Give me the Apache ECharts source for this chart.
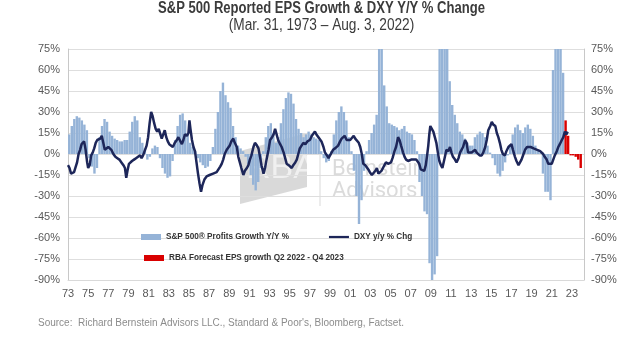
<!DOCTYPE html>
<html>
<head>
<meta charset="utf-8">
<script src="https://cdn.jsdelivr.net/npm/echarts@6/dist/echarts.min.js"></script>
<style>html,body{margin:0;padding:0;background:#fff;}#c{width:624px;height:340px;}</style>
</head>
<body>
<div id="c"></div>
<script>
// ---- Data ----
const startYear = 1973;
// Tick labels on the x axis (every 2 years, 1973..2023)
const xTickYears = [73,75,77,79,81,83,85,87,89,91,93,95,97,99,1,3,5,7,9,11,13,15,17,19,21,23];
const yTicks = [-90,-75,-60,-45,-30,-15,0,15,30,45,60,75];

// S&P 500 reported EPS growth Y/Y %, quarterly, 1973Q1 .. 2022Q1
const epsGrowth = [
  14, 20, 25, 27,   // 1973
  26, 24, 21, 17,   // 1974
  -3, -9, -14, -10, // 1975
  12, 20, 25, 23,   // 1976
  16, 13, 11, 10,   // 1977
  9, 9, 10, 10,     // 1978
  16, 23, 27, 24,   // 1979
  12, 8, 4, -4,     // 1980
  -2, 4, 6, 5,      // 1981
  -3, -10, -14, -17,// 1982
  -16, -5, 10, 20,  // 1983
  28, 29, 24, 15,   // 1984
  8, 5, 2, -3,      // 1985
  -6, -8, -10, -9,  // 1986
  -5, 5, 18, 30,    // 1987
  45, 51, 42, 37,   // 1988
  33, 20, 12, 6,    // 1989
  4, 2, -2, -7,     // 1990
  -15, -22, -26, -20, // 1991
  -10, 2, 12, 20,   // 1992
  22, 15, 8, 12,    // 1993
  22, 32, 40, 44,   // 1994
  43, 36, 25, 18,   // 1995
  15, 12, 14, 16,   // 1996
  14, 12, 11, 10,   // 1997
  2, -3, -6, -5,    // 1998
  2, 14, 24, 30,    // 1999
  34, 30, 24, 12,   // 2000
  2, -12, -30, -50, // 2001
  -33, -12, 2, 10,  // 2002
  15, 21, 28, 100,  // 2003
  90, 49, 34, 22,   // 2004
  21, 20, 19, 17,   // 2005
  18, 20, 16, 15,   // 2006
  14, 10, 2, -20,   // 2007
  -30, -41, -43, -78, // 2008
  -90, -86, -73, 120, // 2009
  200, 140, 90, 52, // 2010
  35, 28, 22, 16,   // 2011
  14, 11, 8, 6,     // 2012
  6, 12, 14, 16,    // 2013
  15, 12, 6, 1,     // 2014
  -3, -8, -14, -16, // 2015
  -12, -6, -1, 6,   // 2016
  14, 19, 21, 17,   // 2017
  15, 19, 21, 18,   // 2018
  13, 6, 2, 1,      // 2019
  -14, -27, -27, -33, // 2020
  60, 140, 110, 85, // 2021
  58                // 2022Q1
];
// RBA forecast EPS growth, Q2 2022 .. Q4 2023
const forecastStartYear = 2022.25;
const forecastGrowth = [24, 13, -1, -1, -2, -4, -10];

// DXY y/y % change (date as decimal year, value %)
const dxyDates = [
1973.00,1973.15,1973.30,1973.45,1973.60,1973.75,1973.90,1974.05,1974.20,1974.35,1974.50,1974.60,1974.75,1974.90,
1975.00,1975.15,1975.30,1975.45,1975.60,1975.75,1975.90,1976.05,1976.20,1976.35,1976.50,1976.65,1976.80,
1977.00,1977.15,1977.30,1977.50,1977.70,1977.90,1978.10,1978.30,1978.50,1978.65,1978.78,1978.90,
1979.05,1979.20,1979.35,1979.55,1979.75,1979.95,1980.15,1980.30,1980.45,1980.60,1980.80,1980.95,
1981.10,1981.25,1981.40,1981.55,1981.70,1981.85,1982.00,1982.15,1982.30,1982.45,1982.60,1982.75,1982.90,
1983.05,1983.20,1983.40,1983.60,1983.80,1983.95,1984.10,1984.30,1984.45,1984.60,1984.80,1984.95,
1985.05,1985.15,1985.30,1985.45,1985.60,1985.75,1985.90,1986.05,1986.20,1986.35,1986.55,1986.75,1986.90,
1987.05,1987.20,1987.40,1987.55,1987.75,1987.90,1988.10,1988.25,1988.40,1988.55,1988.75,1988.90,
1989.05,1989.20,1989.40,1989.55,1989.75,1989.90,1990.05,1990.20,1990.40,1990.55,1990.75,1990.90,
1991.05,1991.20,1991.40,1991.55,1991.75,1991.90,1992.05,1992.20,1992.40,1992.55,1992.70,1992.90,
1993.05,1993.25,1993.40,1993.55,1993.70,1993.85,1994.05,1994.20,1994.40,1994.55,1994.70,1994.90,
1995.05,1995.20,1995.35,1995.55,1995.70,1995.85,1996.00,1996.15,1996.35,1996.55,1996.75,
1997.00,1997.20,1997.35,1997.50,1997.65,1997.85,1998.00,1998.15,1998.35,1998.50,1998.70,1998.85,
1999.00,1999.15,1999.30,1999.50,1999.65,1999.80,2000.00,2000.15,2000.30,2000.45,2000.65,2000.80,
2001.00,2001.15,2001.35,2001.50,2001.65,2001.85,2002.00,2002.15,2002.30,2002.50,2002.65,2002.80,2002.95,
2003.15,2003.30,2003.50,2003.65,2003.80,2003.95,2004.10,2004.25,2004.40,2004.55,2004.75,2004.90,
2005.05,2005.20,2005.40,2005.55,2005.75,2005.90,2006.05,2006.25,2006.40,2006.55,2006.75,2006.90,
2007.05,2007.20,2007.35,2007.55,2007.70,2007.85,2008.00,2008.15,2008.35,2008.50,2008.65,2008.75,2008.85,2008.95,
2009.10,2009.25,2009.40,2009.55,2009.70,2009.85,2010.00,2010.15,2010.25,2010.40,2010.55,2010.75,2010.90,
2011.05,2011.20,2011.40,2011.55,2011.75,2011.90,2012.05,2012.20,2012.40,2012.55,2012.70,2012.85,
2013.05,2013.20,2013.40,2013.55,2013.70,2013.85,2014.05,2014.20,2014.40,2014.55,2014.70,2014.90,
2015.05,2015.20,2015.40,2015.55,2015.70,2015.85,2016.00,2016.15,2016.35,2016.50,2016.70,2016.85,
2017.00,2017.15,2017.35,2017.50,2017.70,2017.85,2018.00,2018.20,2018.35,2018.55,2018.70,2018.90,
2019.05,2019.20,2019.35,2019.55,2019.70,2019.85,2020.00,2020.15,2020.30,2020.50,2020.65,2020.80,
2021.00,2021.15,2021.30,2021.50,2021.65,2021.80,2022.00,2022.15,2022.30,2022.45,2022.58
];
const dxyValues = [
-8,-10,-14,-15,-13,-14,-6,0,3,7,8,9,3,-6,
-10,-8,-1,1,4,8,10,9,11,13,8,3,2,
5,6,3,0,-2,-3,-4,-6,-8,-10,-17,-12,
-7,-6,-5,-4,-3,-2,-1,-3,-1,2,6,12,
22,30,27,22,18,16,18,17,11,14,17,12,9,
7,6,5,8,10,12,11,7,10,14,13,15,
24,18,10,5,2,-6,-14,-21,-27,-22,-18,-16,-17,
-15,-16,-14,-15,-13,-12,-9,-7,-4,0,3,3,
6,9,11,8,5,-2,-6,-10,-15,-12,-10,-8,
-4,-1,5,8,6,4,-2,-8,-14,-10,-4,3,
10,12,14,18,14,10,7,5,1,-3,-7,-8,
-9,-10,-8,-6,-4,0,4,5,8,7,9,
10,13,14,16,14,12,11,9,5,1,-1,-3,
-2,1,3,4,5,6,9,11,12,13,10,11,
10,11,13,11,12,8,5,0,-7,-8,-9,-11,-13,
-15,-16,-12,-10,-14,-13,-12,-10,-8,-6,-7,-6,
-6,-3,2,5,12,10,6,1,-2,-4,-5,-5,
-4,-5,-4,-4,-5,-7,-11,-12,-12,-8,0,6,14,20,
19,16,12,8,1,-5,-8,-10,-11,-2,3,2,5,
1,-2,-4,-6,-3,1,2,5,10,8,1,0,
1,2,3,1,0,-1,-1,1,5,10,17,20,
23,21,20,15,12,8,3,0,-1,2,5,6,
7,3,-2,-5,-8,-7,-4,0,3,5,6,5,
5,4,3,3,3,2,1,0,-2,-4,-7,-6,
-7,-4,-1,2,5,7,10,12,16,14,16
];

const seriesNames = {
  eps: 'S&P 500® Profits Growth Y/Y %',
  dxy: 'DXY y/y % Chg',
  fc: 'RBA Forecast EPS growth Q2 2022 - Q4 2023'
};
const titleText = 'S&P 500 Reported EPS Growth & DXY Y/Y % Change';
const subtitleText = '(Mar. 31, 1973 \u2013 Aug. 3, 2022)';
const sourceText = "Source:  Richard Bernstein Advisors LLC., Standard & Poor's, Bloomberg, Factset.";

// ---- Build series data (x = years since 1973) ----
const epsData = epsGrowth.map((v, i) => [i * 0.25 + 0.125, v]);
const fcData = forecastGrowth.map((v, i) => [forecastStartYear - startYear + i * 0.25 + 0.125, v]);
const dxyData = dxyDates.map((d, i) => [d - startYear, dxyValues[i]]);

const labelSet = new Set(xTickYears);
const axisTextColor = '#595959';
const fontSans = "'Liberation Sans', Arial, sans-serif";
const lineColor = '#1d2659';

const chart = echarts.init(document.getElementById('c'), null, {renderer: 'canvas'});
chart.setOption({
  animation: false,
  backgroundColor: '#fff',
  grid: {left: 68, right: 40, top: 49, bottom: 60, containLabel: false},
  legend: [
    {
      left: 136, top: 228, itemWidth: 20, itemHeight: 6, itemGap: 40,
      data: [
        {name: seriesNames.eps, icon: 'rect'},
        {name: seriesNames.dxy, icon: 'path://M0,0 L20,0 L20,2.2 L0,2.2 Z'}
      ],
      textStyle: {fontFamily: fontSans, fontSize: 8.2, fontWeight: 'bold', color: '#333'}
    },
    {
      left: 139, top: 249, itemWidth: 20, itemHeight: 6,
      data: [{name: seriesNames.fc, icon: 'rect'}],
      textStyle: {fontFamily: fontSans, fontSize: 8.2, fontWeight: 'bold', color: '#333'}
    }
  ],
  xAxis: {
    type: 'value', min: 0, max: 51.2, interval: 2,
    axisLine: {show: true, onZero: false, lineStyle: {color: '#d9d9d9'}},
    axisTick: {show: false},
    splitLine: {show: false},
    axisLabel: {
      showMaxLabel: false, margin: 8,
      color: axisTextColor, fontFamily: fontSans, fontSize: 11,
      formatter: v => {
        const yy = Math.round(v + startYear) % 100;
        if (!labelSet.has(yy) || Math.abs(v - Math.round(v)) > 1e-6) return '';
        return String(yy).padStart(2, '0');
      }
    }
  },
  yAxis: [
    {
      type: 'value', min: yTicks[0], max: yTicks[yTicks.length - 1], interval: 15,
      axisLine: {show: true, lineStyle: {color: '#c8c8c8'}},
      axisTick: {show: false},
      splitLine: {show: true, lineStyle: {color: '#dedede', width: 1}},
      axisLabel: {color: axisTextColor, fontFamily: fontSans, fontSize: 11, margin: 8, formatter: '{value}%'}
    },
    {
      type: 'value', position: 'right', min: yTicks[0], max: yTicks[yTicks.length - 1], interval: 15,
      axisLine: {show: true, lineStyle: {color: '#c8c8c8'}},
      axisTick: {show: false},
      splitLine: {show: false},
      axisLabel: {color: axisTextColor, fontFamily: fontSans, fontSize: 11, margin: 7, formatter: '{value}%'}
    }
  ],
  graphic: [
    {type: 'text', z: 10, silent: true, x: 321.5, y: 1, scaleX: 0.815, originX: 0, originY: 0,
     style: {text: titleText, fill: '#3b3b3b', textAlign: 'center', textVerticalAlign: 'top',
             font: 'bold 16px "Liberation Sans", Arial, sans-serif'}},
    {type: 'text', z: 10, silent: true, x: 321.5, y: 18, scaleX: 0.855, originX: 0, originY: 0,
     style: {text: subtitleText, fill: '#3b3b3b', textAlign: 'center', textVerticalAlign: 'top',
             font: '16px "Liberation Sans", Arial, sans-serif'}},
    {type: 'polygon', z: 0, silent: true,
     shape: {points: [[240, 151], [307, 133], [307, 187], [240, 204]]},
     style: {fill: 'rgba(170,170,170,0.45)'}},
    {type: 'text', z: 0, silent: true, left: 246, top: 152,
     style: {text: 'RBA', fill: 'rgba(255,255,255,0.6)', font: '300 34px "Liberation Sans", sans-serif'}},
    {type: 'line', z: 0, silent: true, shape: {x1: 320, y1: 140, x2: 320, y2: 206},
     style: {stroke: 'rgba(180,180,180,0.5)', lineWidth: 1}},
    {type: 'text', z: 0, silent: true, left: 332, top: 158,
     style: {text: 'Bernstein', fill: 'rgba(190,190,190,0.55)', font: '22px "Roboto", "Liberation Sans", sans-serif'}},
    {type: 'text', z: 0, silent: true, left: 332, top: 180,
     style: {text: 'Advisors', fill: 'rgba(190,190,190,0.55)', font: '22px "Roboto", "Liberation Sans", sans-serif'}},
    {type: 'text', z: 10, silent: true, left: 38, top: 318,
     style: {text: sourceText, fill: '#8c8c8c', font: '10px "Liberation Sans", Arial, sans-serif'}}
  ],
  series: [
    {
      name: seriesNames.eps, type: 'bar', data: epsData, barWidth: 2.4, barGap: '-100%',
      clip: true, itemStyle: {color: '#95b3d7'}, z: 2
    },
    {
      name: seriesNames.fc, type: 'bar', data: fcData, barWidth: 2.4, barGap: '-100%',
      clip: true, itemStyle: {color: '#d90000'}, z: 2
    },
    {
      name: seriesNames.dxy, type: 'line', data: dxyData, symbol: 'none', smooth: false,
      lineStyle: {color: lineColor, width: 2.5}, itemStyle: {color: lineColor}, z: 3
    }
  ]
});
</script>
</body>
</html>
